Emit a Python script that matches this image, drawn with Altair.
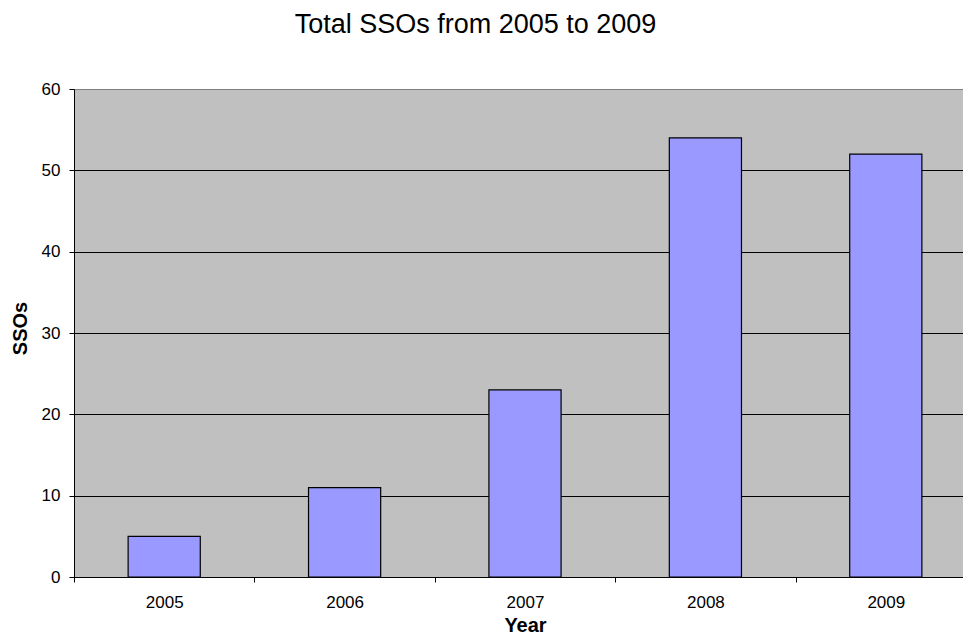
import altair as alt
import pandas as pd

years = ["2005", "2006", "2007", "2008", "2009"]
ssos = [5, 11, 23, 54, 52]
y_ticks = [0, 10, 20, 30, 40, 50, 60]

df = pd.DataFrame({"Year": years, "SSOs": ssos})

FONT = "Liberation Sans"

chart = alt.Chart(df).mark_bar(
    color="#9999FF", stroke="black", strokeWidth=1.2,
    width=alt.RelativeBandSize(0.4)
).encode(
    x=alt.X("Year:N", sort=years,
            scale=alt.Scale(paddingInner=0, paddingOuter=0, range=[0, 902]),
            axis=alt.Axis(title="Year", labelAngle=0, tickBand="extent",
                          labelFont=FONT, labelFontSize=17, labelColor="black",
                          labelBaseline="middle", labelPadding=20,
                          tickSize=5, tickColor="black", domainColor="black",
                          titleFont=FONT, titleFontSize=20, titleFontWeight="bold",
                          titleColor="black", titleX=451, titleY=48,
                          titleBaseline="middle", grid=False)),
    y=alt.Y("SSOs:Q",
            scale=alt.Scale(domain=[0, 60], nice=False),
            axis=alt.Axis(title="SSOs", values=y_ticks,
                          labelFont=FONT, labelFontSize=17, labelColor="black",
                          labelPadding=9, tickSize=5, tickColor="black",
                          domainColor="black",
                          grid=True,
                          gridColor=alt.condition("datum.value == 60",
                                                  alt.value("#808080"),
                                                  alt.value("black")),
                          gridWidth=1,
                          titleFont=FONT, titleFontSize=20, titleFontWeight="bold",
                          titleColor="black", titleAngle=270, titleX=-54,
                          titleY=239, titleAlign="center", titleBaseline="middle")),
).properties(
    width=889,
    height=488,
    background="white",
    title=alt.TitleParams("Total SSOs from 2005 to 2009", font=FONT, fontSize=27,
                          fontWeight="normal", color="black", anchor="middle",
                          dx=-43, offset=20, baseline="alphabetic"),
    padding={"left": 74, "top": 89, "right": 0, "bottom": 67},
    autosize=alt.AutoSizeParams(type="none"),
).configure_view(
    fill="#C0C0C0", stroke="#808080", strokeWidth=1
)

chart.save("out.html", embed_options={"renderer": "svg", "actions": False})
